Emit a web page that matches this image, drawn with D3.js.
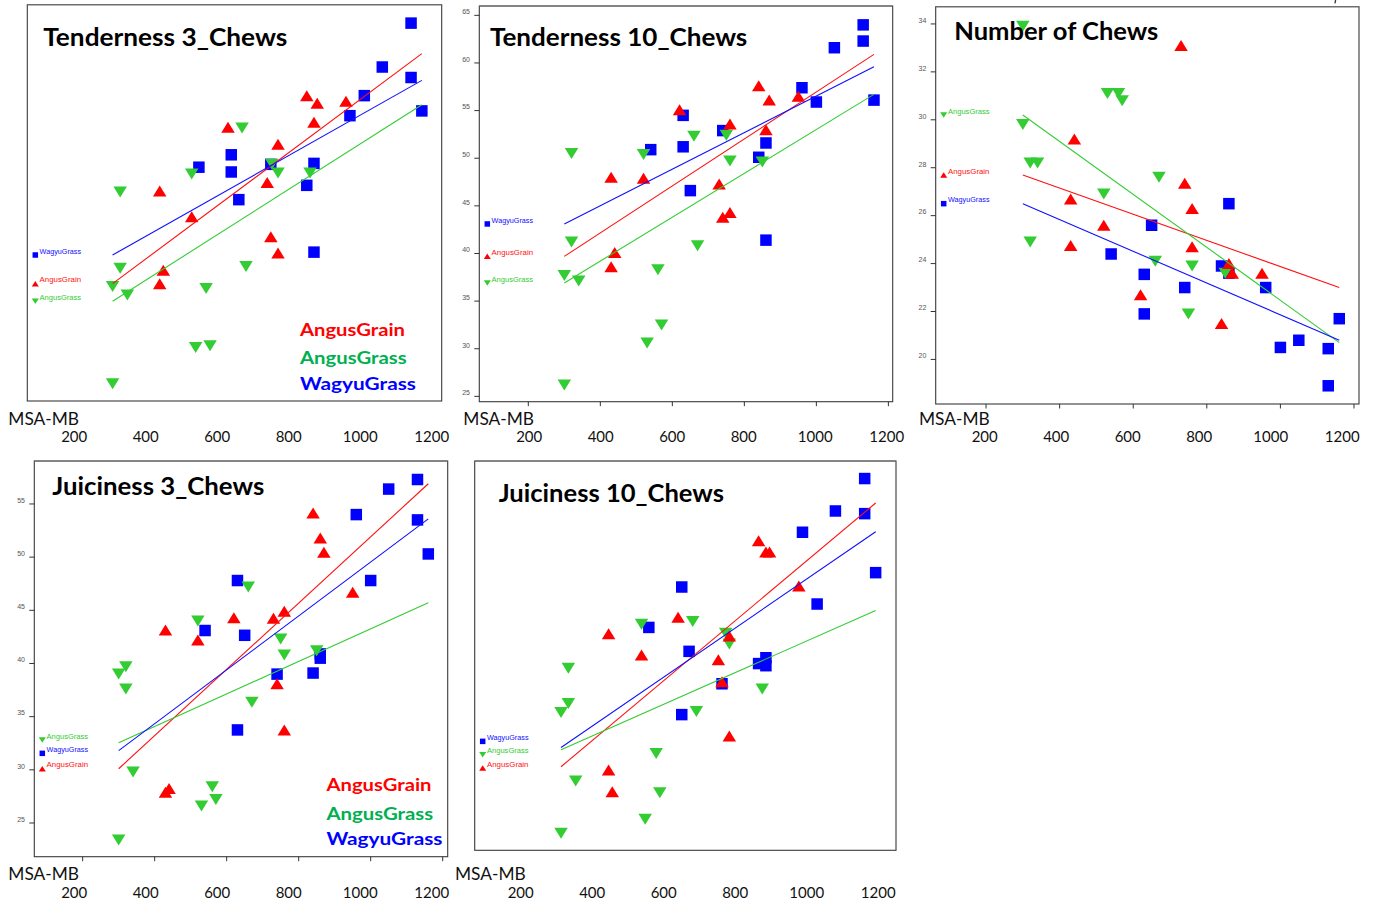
<!DOCTYPE html>
<html>
<head>
<meta charset="utf-8">
<script src="https://cdn.jsdelivr.net/npm/d3@7"></script>
<style>
  html, body { margin: 0; padding: 0; background: #fff; }
  svg { display: block; }
</style>
</head>
<body>
<svg id="chart" width="1384" height="906"></svg>
<script>
// Series order shared by every panel
const groups = ["AngusGrain", "AngusGrass", "WagyuGrass"];

// Fitted lines run between these MSA-MB values
const fitX = [300, 1160];

// Labels of the MSA-MB axis printed under each panel
const msaTicks = [200, 400, 600, 800, 1000, 1200];

// Y tick values for the panels that show a scale
const tend10YTicks = [25, 30, 35, 40, 45, 50, 55, 60, 65];
const chewsYTicks = [20, 22, 24, 26, 28, 30, 32, 34];
const juicy3YTicks = [25, 30, 35, 40, 45, 50, 55];
const xTickValues = [200, 400, 600, 800, 1000, 1200];

// ---- Tenderness 3_Chews : [MSA-MB, score]
const tend3Grain = [[840,56.5],[869,55.7],[949,55.9],[860,53.7],[621,53.2],[760,51.4],[730,47.4],[431,46.5],[520,43.8],[740,41.7],[760,40.0],[441,38.2],[431,36.8]];
const tend3Grass = [[660,53.1],[520,48.3],[743,49.3],[760,48.4],[849,48.4],[321,46.4],[321,38.4],[671,38.6],[300,36.5],[341,35.6],[560,36.3],[531,30.1],[571,30.3],[300,26.3]];
const tend3Wagyu = [[1130,64.1],[1050,59.5],[1130,58.4],[1000,56.5],[1160,54.9],[960,54.4],[630,50.3],[540,49.0],[630,48.5],[740,49.3],[860,49.4],[840,47.1],[651,45.6],[860,40.1]];
const tend3Fits = [[36.8, 60.9], [34.95, 55.55], [39.8, 58.1]];

// ---- Tenderness 10_Chews
const tend10Grain = [[840,57.6],[869,56.1],[950,56.5],[860,53.0],[620,55.1],[760,53.6],[730,47.3],[430,48.0],[520,47.9],[740,43.8],[760,44.3],[440,40.1],[430,38.6]];
const tend10Grass = [[660,52.3],[520,50.4],[750,52.4],[760,49.7],[850,49.6],[320,50.5],[320,41.2],[670,40.8],[300,37.7],[340,37.1],[560,38.3],[530,30.6],[570,32.5],[300,26.2]];
const tend10Wagyu = [[1130,64.0],[1130,62.3],[1050,61.6],[960,57.4],[1000,55.9],[1160,56.1],[630,54.5],[630,51.2],[540,50.9],[740,52.9],[860,51.6],[840,50.1],[650,46.6],[860,41.4]];
const tend10Fits = [[39.7, 60.9], [36.9, 56.7], [43.1, 59.6]];

// ---- Number of Chews
const chewsGrain = [[730,33.1],[440,29.2],[430,26.7],[430,24.75],[520,25.6],[620,22.7],[740,27.35],[760,26.3],[760,24.7],[860,24.0],[869,23.6],[840,21.5],[950,23.6]];
const chewsGrass = [[300,33.9],[530,31.1],[560,31.1],[570,30.8],[300,29.8],[320,28.2],[340,28.2],[520,26.9],[670,27.6],[320,24.9],[660,24.1],[760,23.9],[850,23.6],[750,21.9]];
const chewsWagyu = [[860,26.5],[650,25.6],[540,24.4],[630,23.55],[630,21.9],[740,23.0],[840,23.9],[860,23.6],[960,23.0],[1000,20.5],[1050,20.8],[1130,20.45],[1130,18.9],[1160,21.7]];
const chewsFits = [[27.7, 23.0], [30.2, 20.7], [26.5, 20.8]];

// ---- Juiciness 3_Chews
const juicy3Grain = [[840,54.15],[860,51.8],[870,50.45],[950,46.7],[620,44.3],[730,44.25],[760,44.9],[430,43.15],[520,42.2],[740,38.1],[760,33.75],[440,28.25],[430,27.9]];
const juicy3Grass = [[660,47.2],[520,44.0],[750,42.3],[760,40.8],[850,41.2],[320,39.7],[300,39.0],[320,37.6],[670,36.35],[340,29.8],[560,28.4],[570,27.2],[530,26.6],[300,23.4]];
const juicy3Wagyu = [[1130,57.3],[1050,56.4],[1130,53.5],[960,54.0],[1160,50.3],[1000,47.8],[630,47.8],[540,43.1],[650,42.65],[740,39.0],[840,39.1],[860,40.9],[860,40.5],[630,33.75]];
const juicy3Fits = [[30.1, 56.9], [32.55, 45.7], [31.8, 53.6]];

// ---- Juiciness 10_Chews
const juicy10Grain = [[840,51.95],[860,50.9],[870,50.9],[950,47.7],[620,44.75],[730,40.75],[760,43.0],[430,43.2],[520,41.2],[740,38.7],[760,33.6],[430,30.4],[440,28.35]];
const juicy10Grass = [[660,44.35],[520,44.1],[750,43.25],[760,42.25],[850,38.0],[320,39.95],[320,36.65],[300,35.8],[670,35.9],[340,29.35],[560,31.95],[570,28.25],[530,25.75],[300,24.45]];
const juicy10Wagyu = [[1130,57.8],[1130,54.5],[1050,54.75],[960,52.75],[1160,48.95],[1000,46.0],[630,47.6],[540,43.8],[650,41.55],[740,38.5],[840,40.4],[860,40.95],[860,40.2],[630,35.6]];
const juicy10Fits = [[30.7, 55.5], [32.3, 45.4], [32.5, 52.8]];

// ---------------------------------------------------------------- styling
const markerColor = { AngusGrain: "#ff0000", AngusGrass: "#33cc33", WagyuGrass: "#0000ff" };
const lineColor   = { AngusGrain: "#ff1010", AngusGrass: "#33cc33", WagyuGrass: "#1010ff" };
const legendColor = { AngusGrain: "#ff0000", AngusGrass: "#00b050", WagyuGrass: "#0000ff" };
const markerKind  = { AngusGrain: "up", AngusGrass: "down", WagyuGrass: "square" };

// Panel layout: frame in pixels, scale domains, title placement, outer axis placement
const panels = [
  {
    title: "Tenderness 3_Chews", titleX: 43.3, titleY: 46, titleW: 244,
    series: [tend3Grain, tend3Grass, tend3Wagyu], fits: tend3Fits,
    frame: { x: 27.3, y: 4.7, w: 414.4, h: 396.3 },
    xDomain: [62.8, 1215.2], yDomain: [24.5, 66.03],
    yTicks: null, xTicks: false,
    outer: { x200: 74.2, x1200: 431.7, labelX: 8.3, titleBase: 425, numBase: 441.7 },
    legend: { x: 300, ys: [335.5, 364.3, 390], ws: [105, 106.7, 116] }
  },
  {
    title: "Tenderness 10_Chews", titleX: 490, titleY: 46, titleW: 257.3,
    series: [tend10Grain, tend10Grass, tend10Wagyu], fits: tend10Fits,
    frame: { x: 479.3, y: 6, w: 413.4, h: 395.7 },
    xDomain: [63.9, 1212], yDomain: [24.44, 65.98],
    yTicks: tend10YTicks, xTicks: true,
    outer: { x200: 529.2, x1200: 886.7, labelX: 463.3, titleBase: 425, numBase: 441.7 },
    legend: null
  },
  {
    title: "Number of Chews", titleX: 954.3, titleY: 40, titleW: 204,
    series: [chewsGrain, chewsGrass, chewsWagyu], fits: chewsFits,
    frame: { x: 935.7, y: 6.7, w: 423.3, h: 397.3 },
    xDomain: [63.2, 1213.6], yDomain: [18.14, 34.72],
    yTicks: chewsYTicks, xTicks: true,
    outer: { x200: 984.7, x1200: 1342.2, labelX: 919, titleBase: 425, numBase: 441.7 },
    legend: null
  },
  {
    title: "Juiciness 3_Chews", titleX: 52.3, titleY: 495, titleW: 212,
    series: [juicy3Grain, juicy3Grass, juicy3Wagyu], fits: juicy3Fits,
    frame: { x: 34.3, y: 461, w: 413.4, h: 395.7 },
    xDomain: [65.7, 1213.9], yDomain: [21.83, 59.04],
    yTicks: juicy3YTicks, xTicks: true,
    outer: { x200: 74.2, x1200: 431.7, labelX: 8.3, titleBase: 880, numBase: 897.7 },
    legend: { x: 326.5, ys: [790.5, 819.5, 845], ws: [105, 106.7, 116] }
  },
  {
    title: "Juiciness 10_Chews", titleX: 498.7, titleY: 501.7, titleW: 225.3,
    series: [juicy10Grain, juicy10Grass, juicy10Wagyu], fits: juicy10Fits,
    frame: { x: 474.7, y: 461, w: 421.3, h: 389.3 },
    xDomain: [64, 1215.6], yDomain: [22.84, 59.45],
    yTicks: null, xTicks: false,
    outer: { x200: 520.7, x1200: 878.2, labelX: 455, titleBase: 880, numBase: 897.7 },
    legend: null
  }
];

// ---------------------------------------------------------------- helpers
function markerPath(kind, w, h) {
  if (kind === "square") return `M${-w/2},${-w/2}h${w}v${w}h${-w}Z`;
  if (kind === "up") return `M0,${-h/2}L${w/2},${h/2}L${-w/2},${h/2}Z`;
  return `M0,${h/2}L${w/2},${-h/2}L${-w/2},${-h/2}Z`;
}

// Spread inline series labels so they keep a minimum vertical gap
function spreadLabels(items, gap) {
  const sorted = items.slice().sort((a, b) => a.y - b.y);
  let clusters = sorted.map(d => ({ members: [d] }));
  const place = c => {
    const mean = d3.mean(c.members, m => m.y);
    const n = c.members.length;
    c.members.forEach((m, i) => { m.ly = mean + (i - (n - 1) / 2) * gap; });
  };
  clusters.forEach(place);
  let merged = true;
  while (merged) {
    merged = false;
    for (let i = 0; i < clusters.length - 1; i++) {
      const a = clusters[i], b = clusters[i + 1];
      if (b.members[0].ly - a.members[a.members.length - 1].ly < gap) {
        const c = { members: a.members.concat(b.members) };
        place(c);
        clusters.splice(i, 2, c);
        merged = true;
        break;
      }
    }
  }
  return sorted;
}

// ---------------------------------------------------------------- drawing
const svg = d3.select("#chart");
svg.append("rect").attr("width", 1384).attr("height", 906).attr("fill", "#fff");

panels.forEach(p => {
  const f = p.frame;
  const x = d3.scaleLinear().domain(p.xDomain).range([f.x, f.x + f.w]);
  const y = d3.scaleLinear().domain(p.yDomain).range([f.y + f.h, f.y]);
  const g = svg.append("g");

  // plot frame
  g.append("rect")
    .attr("x", f.x).attr("y", f.y).attr("width", f.w).attr("height", f.h)
    .attr("fill", "#fff").attr("stroke", "#3a3a3a").attr("stroke-width", 1.1);
  g.append("line")
    .attr("x1", f.x).attr("x2", f.x + f.w).attr("y1", f.y).attr("y2", f.y)
    .attr("stroke", "#777").attr("stroke-width", 1.1);

  // y axis ticks
  if (p.yTicks) {
    const ya = g.append("g");
    p.yTicks.forEach(t => {
      ya.append("line")
        .attr("x1", f.x - 5).attr("x2", f.x)
        .attr("y1", y(t)).attr("y2", y(t))
        .attr("stroke", "#333").attr("stroke-width", 1);
      ya.append("text")
        .attr("x", f.x - 9.3).attr("y", y(t) - 1.2)
        .attr("text-anchor", "end")
        .attr("font-family", "Liberation Sans, Arial, sans-serif")
        .attr("font-size", 7).attr("fill", "#555")
        .text(t);
    });
  }
  // x axis ticks along the frame bottom
  if (p.xTicks) {
    xTickValues.forEach(t => {
      g.append("line")
        .attr("x1", x(t)).attr("x2", x(t))
        .attr("y1", f.y + f.h).attr("y2", f.y + f.h + 4.5)
        .attr("stroke", "#333").attr("stroke-width", 1);
    });
  }

  // scatter markers (WagyuGrass underneath, then AngusGrass, then AngusGrain)
  [2, 1, 0].forEach(si => {
    const name = groups[si];
    g.append("g").selectAll("path")
      .data(p.series[si])
      .join("path")
      .attr("transform", d => `translate(${x(d[0])},${y(d[1])})`)
      .attr("d", markerPath(markerKind[name], name === "WagyuGrass" ? 11.5 : 13.5, 11))
      .attr("fill", markerColor[name]);
  });

  // fitted lines
  const line = d3.line().x(d => x(d[0])).y(d => y(d[1]));
  p.fits.forEach((fv, si) => {
    g.append("path")
      .attr("d", line([[fitX[0], fv[0]], [fitX[1], fv[1]]]))
      .attr("fill", "none")
      .attr("stroke", lineColor[groups[si]])
      .attr("stroke-width", 1.1);
  });

  // inline series labels at the start of each fitted line
  const items = p.fits.map((fv, si) => ({ name: groups[si], y: y(fv[0]) }));
  spreadLabels(items, 13.3).forEach(it => {
    const mx = f.x + 8;
    g.append("path")
      .attr("transform", `translate(${mx},${it.ly})`)
      .attr("d", markerPath(markerKind[it.name], it.name === "WagyuGrass" ? 5.5 : 7, 5.5))
      .attr("fill", markerColor[it.name]);
    g.append("text")
      .attr("x", mx + 4.3).attr("y", it.ly - 1.3)
      .attr("font-family", "Liberation Sans, Arial, sans-serif")
      .attr("font-size", 7.3)
      .attr("fill", lineColor[it.name])
      .attr("textLength", 41.5).attr("lengthAdjust", "spacingAndGlyphs")
      .text(it.name);
  });

  // panel title
  g.append("text")
    .attr("x", p.titleX).attr("y", p.titleY)
    .attr("font-family", "Lato, 'Open Sans', sans-serif")
    .attr("font-weight", 700).attr("font-size", 24.5)
    .attr("fill", "#000")
    .attr("textLength", p.titleW).attr("lengthAdjust", "spacingAndGlyphs")
    .text(p.title);

  // large colour legend
  if (p.legend) {
    groups.forEach((name, i) => {
      g.append("text")
        .attr("x", p.legend.x).attr("y", p.legend.ys[i])
        .attr("font-family", "Lato, 'Open Sans', sans-serif")
        .attr("font-weight", 700).attr("font-size", 17.3)
        .attr("fill", legendColor[name])
        .attr("textLength", p.legend.ws[i]).attr("lengthAdjust", "spacingAndGlyphs")
        .text(name);
    });
  }

  // MSA-MB label row under the panel
  const ox = d3.scaleLinear().domain([200, 1200]).range([p.outer.x200, p.outer.x1200]);
  g.append("text")
    .attr("x", p.outer.labelX).attr("y", p.outer.titleBase)
    .attr("font-family", "Lato, 'Open Sans', sans-serif")
    .attr("font-size", 16.5).attr("fill", "#111")
    .attr("textLength", 70.7).attr("lengthAdjust", "spacingAndGlyphs")
    .text("MSA-MB");
  g.append("g").selectAll("text")
    .data(msaTicks)
    .join("text")
    .attr("x", d => ox(d)).attr("y", p.outer.numBase)
    .attr("text-anchor", "middle")
    .attr("font-family", "Lato, 'Open Sans', sans-serif")
    .attr("font-size", 15).attr("fill", "#111")
    .text(d => d);
});

// small clipped glyph stroke at the top edge
svg.append("path")
  .attr("d", "M1335.6,0 L1335,3.4")
  .attr("stroke", "#333").attr("stroke-width", 1.3).attr("fill", "none");
</script>
</body>
</html>
